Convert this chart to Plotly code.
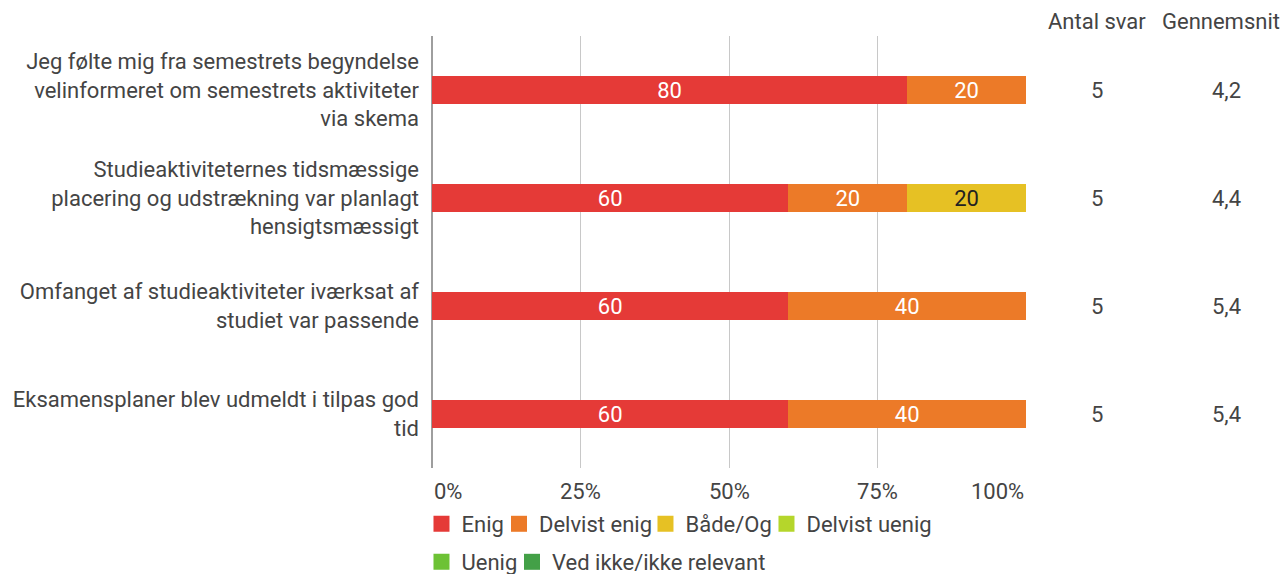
import plotly.graph_objects as go

questions = [
    'Jeg følte mig fra semestrets begyndelse<br>velinformeret om semestrets aktiviteter<br>via skema',
    'Studieaktiviteternes tidsmæssige<br>placering og udstrækning var planlagt<br>hensigtsmæssigt',
    'Omfanget af studieaktiviteter iværksat af<br>studiet var passende',
    'Eksamensplaner blev udmeldt i tilpas god<br>tid',
]
answer_names = ['Enig', 'Delvist enig', 'Både/Og', 'Delvist uenig', 'Uenig', 'Ved ikke/ikke relevant']
answer_colors = ['#e53a37', '#ec7a28', '#e6c124', '#b5d62b', '#6dc235', '#43a047']
text_colors = ['white', 'white', '#222222', '#222222', 'white', 'white']
shares = [
    [80, 60, 60, 60],   # Enig
    [20, 20, 40, 40],   # Delvist enig
    [0, 20, 0, 0],      # Både/Og
    [0, 0, 0, 0],       # Delvist uenig
    [0, 0, 0, 0],       # Uenig
    [0, 0, 0, 0],       # Ved ikke/ikke relevant
]
n_answers = [5, 5, 5, 5]
averages = ['4,2', '4,4', '5,4', '5,4']
x_ticks = [0, 25, 50, 75, 100]

FONT = 'Roboto, Arial, sans-serif'
GREY = '#444444'
FS = 22

# one small legend per entry so the entries sit where the original has them
legend_ids = ['legend', 'legend2', 'legend3', 'legend4', 'legend5', 'legend6']
legend_pos = [(-0.0177, -0.081), (0.1128, -0.081), (0.3594, -0.081), (0.5631, -0.081),
              (-0.0177, -0.169), (0.1347, -0.169)]

fig = go.Figure()
for i, (name, vals) in enumerate(zip(answer_names, shares)):
    fig.add_trace(go.Bar(
        y=list(range(len(questions))),
        x=vals,
        orientation='h',
        name=name,
        marker=dict(color=answer_colors[i], line=dict(width=0)),
        text=[str(v) if v else '' for v in vals],
        textposition='inside',
        insidetextanchor='middle',
        textangle=0,
        constraintext='none',
        textfont=dict(color=text_colors[i], size=FS, family=FONT),
        width=0.26,
        showlegend=False,
        hoverinfo='skip',
    ))
    # legend entry drawn as a square marker
    fig.add_trace(go.Scatter(
        x=[None], y=[None], mode='markers', name=name,
        marker=dict(symbol='square', size=16, color=answer_colors[i]),
        legend=legend_ids[i],
        hoverinfo='skip',
    ))

# x tick labels, kept inside the plot range at the ends
for t in x_ticks:
    anchor = 'left' if t == 0 else ('right' if t == 100 else 'center')
    fig.add_annotation(x=t, y=0, xref='x', yref='paper', text=f'{t}%',
                       showarrow=False, xanchor=anchor, yanchor='top', yshift=-9,
                       font=dict(size=FS, color=GREY, family=FONT))

# right-hand columns
for xpos, head in [(1.12, 'Antal svar'), (1.329, 'Gennemsnit')]:
    fig.add_annotation(x=xpos, y=1, xref='paper', yref='paper', text=head,
                       showarrow=False, xanchor='center', yanchor='bottom', yshift=0,
                       font=dict(size=FS, color=GREY, family=FONT))
for i in range(len(questions)):
    fig.add_annotation(x=1.12, y=i, xref='paper', yref='y', text=str(n_answers[i]),
                       showarrow=False, xanchor='center',
                       font=dict(size=FS, color=GREY, family=FONT))
    fig.add_annotation(x=1.338, y=i, xref='paper', yref='y', text=averages[i],
                       showarrow=False, xanchor='center',
                       font=dict(size=FS, color=GREY, family=FONT))

legend_style = dict(orientation='h', xanchor='left', yanchor='top',
                    font=dict(size=FS, color=GREY, family=FONT),
                    bgcolor='rgba(0,0,0,0)', itemclick=False, itemdoubleclick=False)
legends = {lid: dict(x=px, y=py, **legend_style) for lid, (px, py) in zip(legend_ids, legend_pos)}

# the page body adds an 8px offset, so the figure is laid out 8px up/left;
# the figure is made a bit taller than the window so the legends never push the margins
fig.update_layout(
    barmode='stack',
    width=1288,
    height=600,
    margin=dict(l=424, r=270, t=28, b=140),
    plot_bgcolor='white',
    paper_bgcolor='white',
    font=dict(family=FONT, color=GREY, size=FS),
    showlegend=True,
    xaxis=dict(
        range=[0, 100],
        tickvals=x_ticks,
        showticklabels=False,
        showgrid=True,
        gridcolor='#c8c8c8',
        gridwidth=1,
        zeroline=True,
        zerolinecolor='#9e9e9e',
        zerolinewidth=2,
        automargin=False,
        fixedrange=True,
    ),
    yaxis=dict(
        tickvals=list(range(len(questions))),
        ticktext=questions,
        range=[3.5, -0.5],
        showgrid=False,
        zeroline=False,
        ticks='',
        ticklabelstandoff=12,
        tickfont=dict(size=FS, color=GREY, family=FONT),
        automargin=False,
        fixedrange=True,
    ),
    **legends,
)

fig.write_html('out.html')
